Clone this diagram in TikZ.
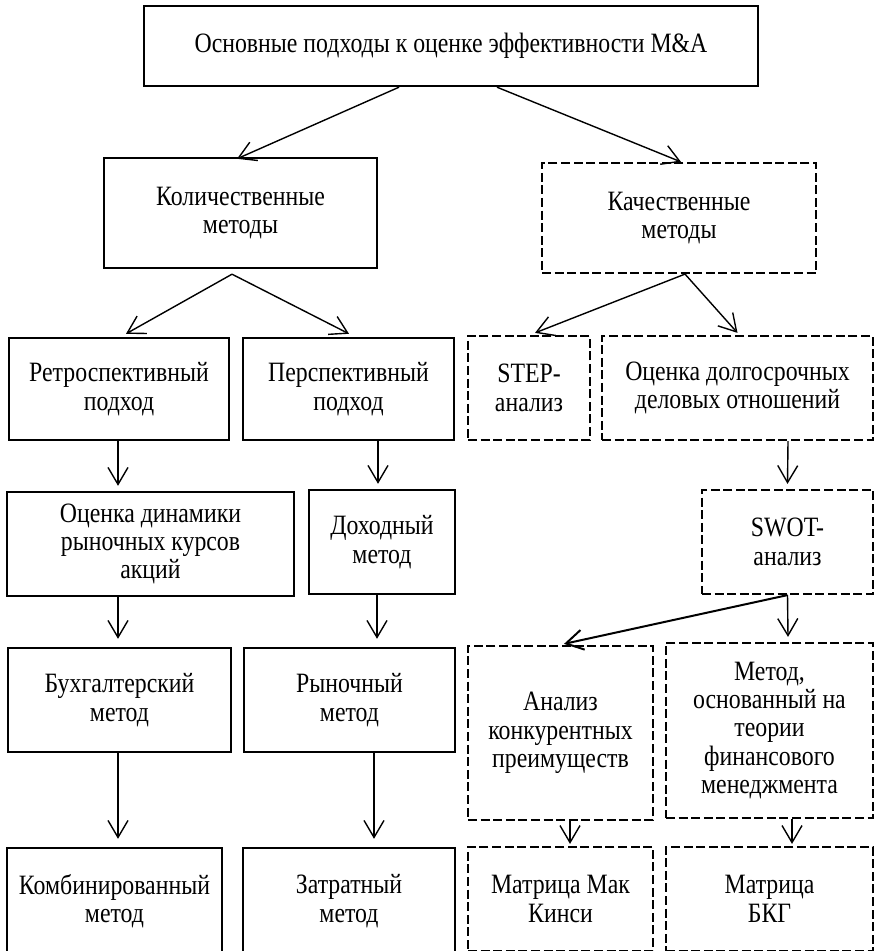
\documentclass[tikz,border=0pt]{standalone}
\usepackage{fontspec}
\setmainfont{Liberation Serif}[FakeStretch=0.85]
\usetikzlibrary{arrows.meta,calc}
\tikzset{
  box/.style={draw,line width=1.2pt,inner sep=2pt,align=center,font=\fontsize{14}{14.2}\selectfont},
  dashbox/.style={box,line width=1.1pt,dash pattern=on 4.5pt off 1.8pt},
  conn/.style={->,line width=0.7pt},
}
\begin{document}
\begin{tikzpicture}[x=0.5pt,y=-0.5pt,>={Straight Barb[length=8.5pt,width=10pt]},line join=miter]
        \path[use as bounding box,clip] (0,0) rectangle (875,951);
        %%
        \node (node_0) at (451,46) [box,minimum width=307pt,minimum height=40pt] {Основные подходы к оценке эффективности M\&A};
        \node (node_1) at (240.5,213) [box,minimum width=136.5pt,minimum height=55pt] {Количественные\\методы};
        \node (node_2) at (679,218) [dashbox,minimum width=137pt,minimum height=55pt] {Качественные\\методы};
        \node (node_3) at (119,389) [box,minimum width=110pt,minimum height=51pt] {Ретроспективный\\подход};
        \node (node_4) at (348.5,389) [box,minimum width=105.5pt,minimum height=51pt] {Перспективный\\подход};
        \node (node_5) at (529,388) [dashbox,minimum width=61pt,minimum height=52pt] {STEP-\\анализ};
        \node (node_6) at (737.5,388) [dashbox,minimum width=135.5pt,minimum height=52pt] {Оценка долгосрочных\\деловых отношений};
        \node (node_7) at (150.5,544) [box,minimum width=143.5pt,minimum height=52pt] {Оценка динамики\\рыночных курсов\\акций};
        \node (node_8) at (382,542) [box,minimum width=73pt,minimum height=52pt] {Доходный\\метод};
        \node (node_9) at (787.5,542) [dashbox,minimum width=85.5pt,minimum height=52pt] {SWOT-\\анализ};
        \node (node_10) at (119.5,700) [box,minimum width=111.5pt,minimum height=52pt] {Бухгалтерский\\метод};
        \node (node_11) at (349.5,700) [box,minimum width=105.5pt,minimum height=52pt] {Рыночный\\метод};
        \node (node_12) at (560.5,733) [dashbox,minimum width=92.5pt,minimum height=87pt] {Анализ\\конкурентных\\преимуществ};
        \node (node_13) at (769.5,730.5) [dashbox,minimum width=103.5pt,minimum height=87.5pt] {Метод,\\основанный на\\теории\\финансового\\менеджмента};
        \node (node_14) at (114.5,901) [box,minimum width=107.5pt,minimum height=53pt] {Комбинированный\\метод};
        \node (node_15) at (349,901) [box,minimum width=106pt,minimum height=53pt] {Затратный\\метод};
        \node (node_16) at (560.5,899) [dashbox,minimum width=92.5pt,minimum height=52pt] {Матрица Мак\\Кинси};
        \node (node_17) at (769.5,899) [dashbox,minimum width=103.5pt,minimum height=52pt] {Матрица\\БКГ};
        %%
        \draw [conn] ($(node_0.south)+(-52,0)$) -- ($(node_1.north)+(-3.5,2)$);
        \draw [conn] ($(node_0.south)+(46,0)$) -- ($(node_2.north)+(2,0)$);
        \draw [conn] ($(node_1.south)+(-8.5,5)$) -- ($(node_3.north)+(7,-3)$);
        \draw [conn] ($(node_1.south)+(-8.5,5)$) -- ($(node_4.north)+(0.5,-3)$);
        \draw [conn] ($(node_2.south)+(6,0)$) -- ($(node_5.north)+(6,-2)$);
        \draw [conn] ($(node_2.south)+(6,0)$) -- ($(node_6.north)+(0,-2)$);
        \draw [conn] ($(node_3.south)+(-1,0)$) -- ($(node_7.north)+(-32.5,-5)$);
        \draw [conn] ($(node_4.south)+(29.5,0)$) -- ($(node_8.north)+(-4,-5)$);
        \draw [conn] ($(node_6.south)+(50.5,0)$) -- ($(node_9.north)+(0,-5)$);
        \draw [conn] ($(node_7.south)+(-32.5,0)$) -- ($(node_10.north)+(-1.5,-8)$);
        \draw [conn] ($(node_8.south)+(-5,0)$) -- ($(node_11.north)+(27.5,-8)$);
        \draw [conn,line width=1pt] (node_9.south) -- ($(node_12.north)+(3.5,-1)$);
        \draw [conn] (node_9.south) -- ($(node_13.north)+(18.5,-5)$);
        \draw [conn] ($(node_10.south)+(-1.5,0)$) -- ($(node_14.north)+(3.5,-8)$);
        \draw [conn] ($(node_11.south)+(24.5,0)$) -- ($(node_15.north)+(25,-8)$);
        \draw [conn] ($(node_12.south)+(9.5,0)$) -- ($(node_16.north)+(9.5,-2)$);
        \draw [conn] ($(node_13.south)+(22.5,0)$) -- ($(node_17.north)+(22.5,-2)$);
        %
        \end{tikzpicture}
\end{document}
